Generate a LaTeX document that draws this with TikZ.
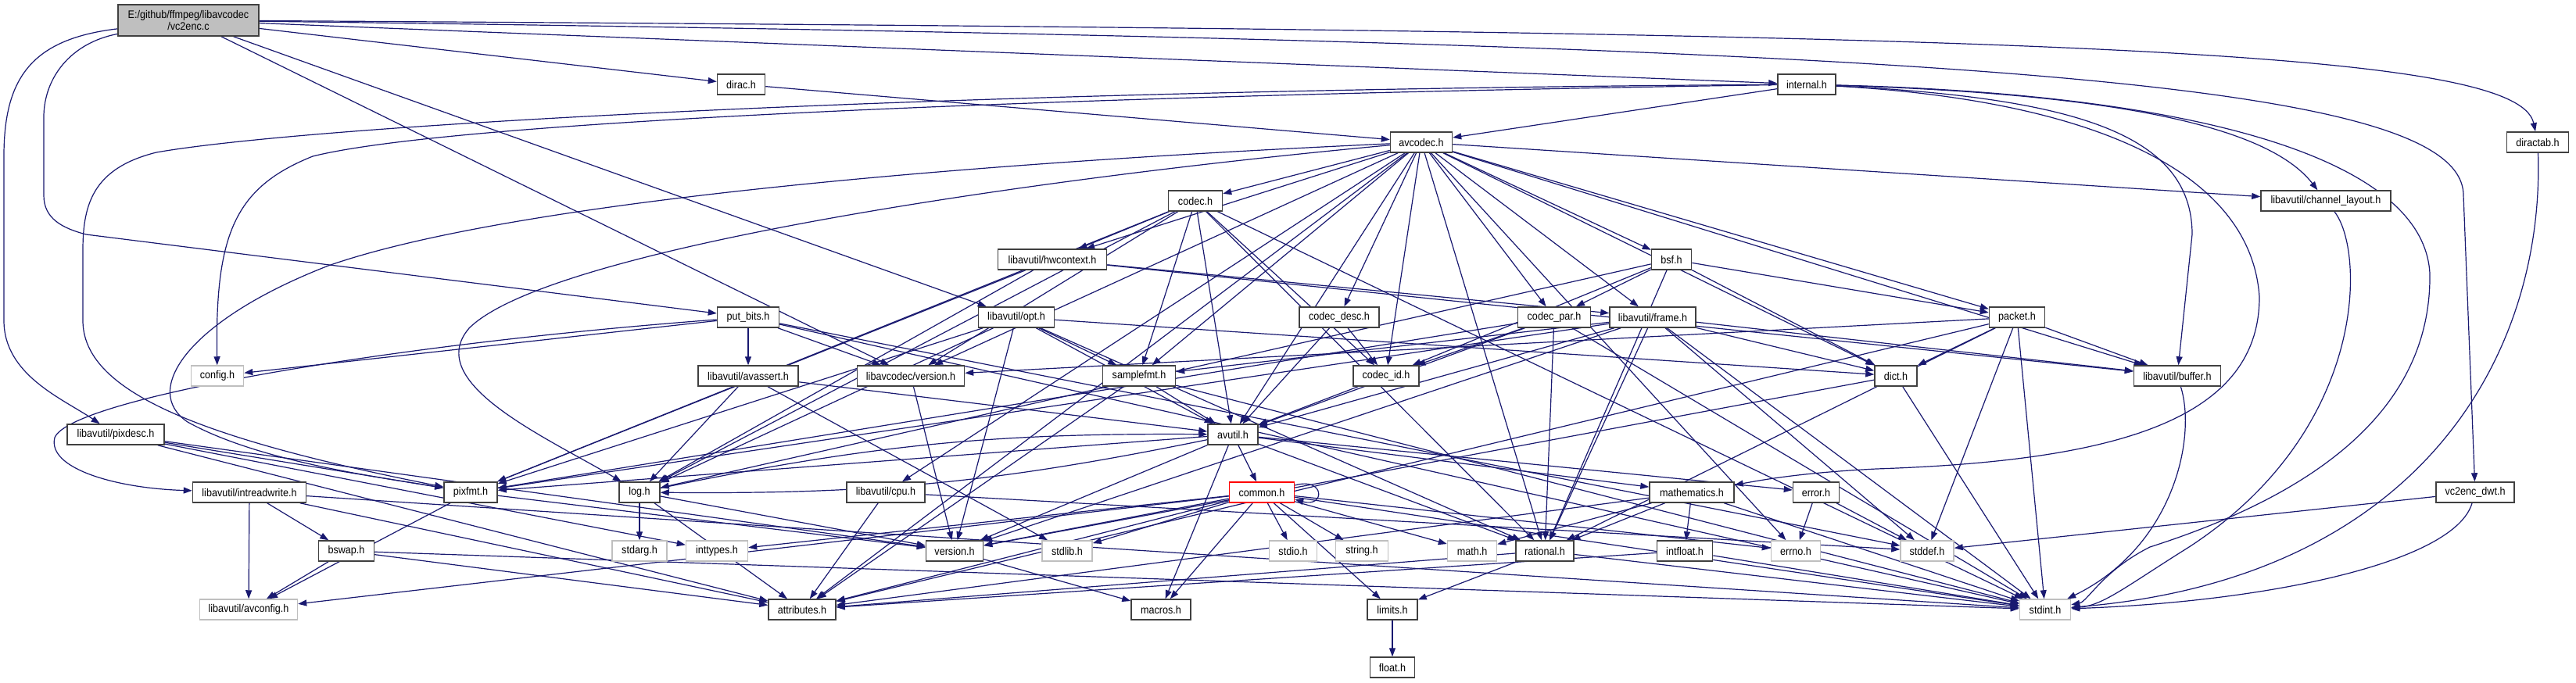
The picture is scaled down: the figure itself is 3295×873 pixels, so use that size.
\documentclass[tikz,border=0pt]{standalone}
\usepackage{fontspec}
\setmainfont{Liberation Sans}[FakeStretch=0.9]
\usetikzlibrary{arrows.meta}
\definecolor{edgec}{HTML}{191970}
\definecolor{grayb}{HTML}{BFBFBF}
\definecolor{darkb}{HTML}{404040}
\pgfdeclarelayer{back}
\pgfdeclarelayer{bg}
\pgfsetlayers{back,bg,main}
\tikzset{
  box/.style={draw=darkb, line width=1.5pt, fill=white, minimum height=26pt, inner sep=0pt, font=\fontsize{14}{15}\selectfont, text=black},
  sysbox/.style={box, draw=grayb},
  redbox/.style={box, draw=red},
  e/.style={draw=edgec, line width=1.2pt, -{Triangle[length=11pt,width=8pt]}},
}
\begin{document}
\begin{tikzpicture}[x=1pt,y=-1pt]
\begin{pgfonlayer}{back}
\fill[white] (0,0) rectangle (3295,873);
\end{pgfonlayer}
\useasboundingbox (0,0) rectangle (3295,873);
% nodes
\node[box, fill=grayb, minimum width=180pt, minimum height=40pt, align=center] (vc2enc) at (241,26) {E:/github/ffmpeg/libavcodec\\/vc2enc.c};
\node[box, minimum width=61pt] (dirac) at (948,108) {dirac.h};
\node[box, minimum width=74pt] (internal) at (2311,108) {internal.h};
\node[box, minimum width=79pt] (avcodec) at (1818,182) {avcodec.h};
\node[box, minimum width=79pt] (diractab) at (3246,182) {diractab.h};
\node[box, minimum width=69pt] (codec) at (1529,257) {codec.h};
\node[box, minimum width=166pt] (chlayout) at (2975,257) {libavutil/channel\_layout.h};
\node[box, minimum width=139pt] (hwcontext) at (1346,332) {libavutil/hwcontext.h};
\node[box, minimum width=51pt] (bsf) at (2138,332) {bsf.h};
\node[box, minimum width=79pt] (putbits) at (957,406) {put\_bits.h};
\node[box, minimum width=97pt] (opt) at (1300,406) {libavutil/opt.h};
\node[box, minimum width=102pt] (codecdesc) at (1713,406) {codec\_desc.h};
\node[box, minimum width=93pt] (codecpar) at (1988,406) {codec\_par.h};
\node[box, minimum width=110pt] (frame) at (2114,406) {libavutil/frame.h};
\node[box, minimum width=71pt] (packet) at (2580,406) {packet.h};
\node[sysbox, minimum width=67pt] (config) at (278,481) {config.h};
\node[box, minimum width=128pt] (avassert) at (957,481) {libavutil/avassert.h};
\node[box, minimum width=137pt] (lavcversion) at (1165,481) {libavcodec/version.h};
\node[box, minimum width=93pt] (samplefmt) at (1457,481) {samplefmt.h};
\node[box, minimum width=84pt] (codecid) at (1773,481) {codec\_id.h};
\node[box, minimum width=54pt] (dict) at (2425,481) {dict.h};
\node[box, minimum width=111pt] (buffer) at (2785,481) {libavutil/buffer.h};
\node[box, minimum width=124pt] (pixdesc) at (148,556) {libavutil/pixdesc.h};
\node[box, minimum width=64pt] (avutil) at (1577,556) {avutil.h};
\node[box, minimum width=145pt] (intreadwrite) at (319,630) {libavutil/intreadwrite.h};
\node[box, minimum width=68pt] (pixfmt) at (602,630) {pixfmt.h};
\node[box, minimum width=52pt] (log) at (818,630) {log.h};
\node[box, minimum width=100pt] (cpu) at (1133,630) {libavutil/cpu.h};
\node[redbox, minimum width=83pt] (common) at (1614,630) {common.h};
\node[box, minimum width=108pt] (mathematics) at (2164,630) {mathematics.h};
\node[box, minimum width=59pt] (error) at (2323,630) {error.h};
\node[box, minimum width=100pt] (vc2encdwt) at (3166,630) {vc2enc\_dwt.h};
\node[box, minimum width=71pt] (bswap) at (443,705) {bswap.h};
\node[sysbox, minimum width=70pt] (stdarg) at (818,705) {stdarg.h};
\node[sysbox, minimum width=79pt] (inttypes) at (917,705) {inttypes.h};
\node[box, minimum width=73pt] (version) at (1221,705) {version.h};
\node[sysbox, minimum width=64pt] (stdlib) at (1365,705) {stdlib.h};
\node[sysbox, minimum width=61pt] (stdio) at (1654,705) {stdio.h};
\node[sysbox, minimum width=67pt] (string) at (1742,705) {string.h};
\node[sysbox, minimum width=63pt] (math) at (1883,705) {math.h};
\node[box, minimum width=74pt] (rational) at (1976,705) {rational.h};
\node[box, minimum width=71pt] (intfloat) at (2155,705) {intfloat.h};
\node[sysbox, minimum width=63pt] (errno) at (2297,705) {errno.h};
\node[sysbox, minimum width=68pt] (stddef) at (2465,705) {stddef.h};
\node[sysbox, minimum width=125pt] (avconfig) at (318,780) {libavutil/avconfig.h};
\node[box, minimum width=86pt] (attributes) at (1026,780) {attributes.h};
\node[box, minimum width=76pt] (macros) at (1485,780) {macros.h};
\node[box, minimum width=64pt] (limits) at (1781,780) {limits.h};
\node[sysbox, minimum width=65pt] (stdint) at (2616,780) {stdint.h};
\node[box, minimum width=57pt] (float) at (1781,854) {float.h};
% edges
\begin{pgfonlayer}{bg}
\foreach \t in {dirac,internal,opt,lavcversion} \draw[e] (vc2enc) -- (\t);
\draw[e] (vc2enc) .. controls (2600,40) and (3220,60) .. (diractab);
\draw[e] (vc2enc) .. controls (2500,55) and (3150,100) .. (3151,250) -- (vc2encdwt);
\draw[e] (vc2enc) .. controls (40,50) and (5,100) .. (5,200) -- (5,410) .. controls (5,480) and (80,510) .. (pixdesc);
\draw[e] (vc2enc) .. controls (90,55) and (56,100) .. (56,150) -- (56,250) .. controls (56,280) and (80,292) .. (110,300) -- (putbits);
\draw[e] (dirac) -- (avcodec);
\draw[e] (internal) -- (avcodec);
\draw[e] (internal) .. controls (1500,120) and (600,150) .. (400,200) .. controls (300,240) and (275,300) .. (config);
\draw[e] (internal) .. controls (1200,115) and (400,160) .. (200,195) .. controls (120,215) and (106,260) .. (106,320) -- (106,410) .. controls (106,500) and (250,560) .. (pixfmt);
\draw[e] (internal) .. controls (2700,120) and (2900,160) .. (chlayout);
\draw[e] (internal) .. controls (2650,125) and (2804,170) .. (2804,300) -- (buffer);
\draw[e] (internal) .. controls (2700,130) and (2880,230) .. (2890,380) .. controls (2890,540) and (2700,590) .. (2400,600) .. controls (2300,605) and (2250,615) .. (mathematics);
\draw[e] (internal) .. controls (2800,120) and (3100,200) .. (3108,350) .. controls (3110,500) and (3000,620) .. (2750,700) .. controls (2690,730) and (2670,770) .. (stdint);
\draw[e] (chlayout) .. controls (3025,320) and (3030,550) .. (2800,700) .. controls (2720,750) and (2690,775) .. (stdint);
\draw[e] (diractab) .. controls (3255,450) and (3100,740) .. (stdint);
\draw[e] (vc2encdwt) .. controls (3140,720) and (2900,770) .. (stdint);
\draw[e] (buffer) .. controls (2810,560) and (2780,700) .. (stdint);
\draw[e] (vc2encdwt) -- (stddef);
\draw[e] (putbits) .. controls (500,440) and (90,510) .. (70,560) .. controls (60,600) and (150,625) .. (intreadwrite);
\foreach \t in {config,avassert,lavcversion,stdint,stddef} \draw[e] (putbits) -- (\t);
\foreach \t in {inttypes,attributes,pixfmt,version} \draw[e] (pixdesc) -- (\t);
\foreach \t in {rational,avutil,dict,log,pixfmt,samplefmt,version} \draw[e] (opt) -- (\t);
\foreach \t in {errno,samplefmt,attributes,avutil,buffer,cpu,chlayout,dict,frame,hwcontext,rational,bsf,codec,codecdesc,codecpar,codecid,packet,lavcversion} \draw[e] (avcodec) -- (\t);
\draw[e] (avcodec) .. controls (1100,215) and (620,270) .. (420,340) .. controls (240,410) and (180,500) .. (240,540) .. controls (330,590) and (480,610) .. (pixfmt);
\draw[e] (avcodec) .. controls (1300,230) and (700,320) .. (600,420) .. controls (540,490) and (700,560) .. (log);
\foreach \t in {stdint,avutil,hwcontext,log,pixfmt,rational,samplefmt,codecid,lavcversion} \draw[e] (codec) -- (\t);
\foreach \t in {buffer,frame,log,pixfmt} \draw[e] (hwcontext) -- (\t);
\foreach \t in {dict,log,rational,codecid,codecpar,packet} \draw[e] (bsf) -- (\t);
\foreach \t in {avutil,codecid} \draw[e] (codecdesc) -- (\t);
\foreach \t in {stdint,avutil,rational,pixfmt,codecid} \draw[e] (codecpar) -- (\t);
\foreach \t in {stddef,stdint,avutil,buffer,dict,rational,samplefmt,pixfmt,version} \draw[e] (frame) -- (\t);
\foreach \t in {stddef,stdint,attributes,buffer,dict,rational,lavcversion} \draw[e] (packet) -- (\t);
\draw[e] (codecid) -- (avutil);
\foreach \t in {stdlib,avutil,log} \draw[e] (avassert) -- (\t);
\draw[e] (lavcversion) -- (version);
\foreach \t in {stdint,avutil,attributes} \draw[e] (samplefmt) -- (\t);
\foreach \t in {stdint,version} \draw[e] (dict) -- (\t);
\foreach \t in {common,error,version,mathematics,rational,pixfmt,macros} \draw[e] (avutil) -- (\t);
\draw[e] (avutil) to[bend left=6] (log);
\draw[e] (log) to[bend left=6] (avutil);
\foreach \t in {stdarg,attributes,version} \draw[e] (log) -- (\t);
\foreach \t in {avconfig,version} \draw[e] (pixfmt) -- (\t);
\foreach \t in {stdint,avconfig,attributes,bswap} \draw[e] (intreadwrite) -- (\t);
\foreach \t in {stdint,avconfig,attributes} \draw[e] (bswap) -- (\t);
\foreach \t in {attributes,stddef} \draw[e] (cpu) -- (\t);
\foreach \t in {errno,inttypes,limits,math,stdint,stdio,stdlib,string,attributes,macros,version,avconfig} \draw[e] (common) -- (\t);
\draw[e] (common.12) .. controls (1695,610) and (1695,650) .. (common.-12);
\foreach \t in {stdint,math,attributes,rational,intfloat} \draw[e] (mathematics) -- (\t);
\foreach \t in {errno,stddef} \draw[e] (error) -- (\t);
\foreach \t in {stdint,attributes} \draw[e] (intfloat) -- (\t);
\foreach \t in {stdint,limits,attributes} \draw[e] (rational) -- (\t);
\draw[e] (limits) -- (float);
\draw[e] (version) -- (macros);
\end{pgfonlayer}
\end{tikzpicture}
\end{document}
